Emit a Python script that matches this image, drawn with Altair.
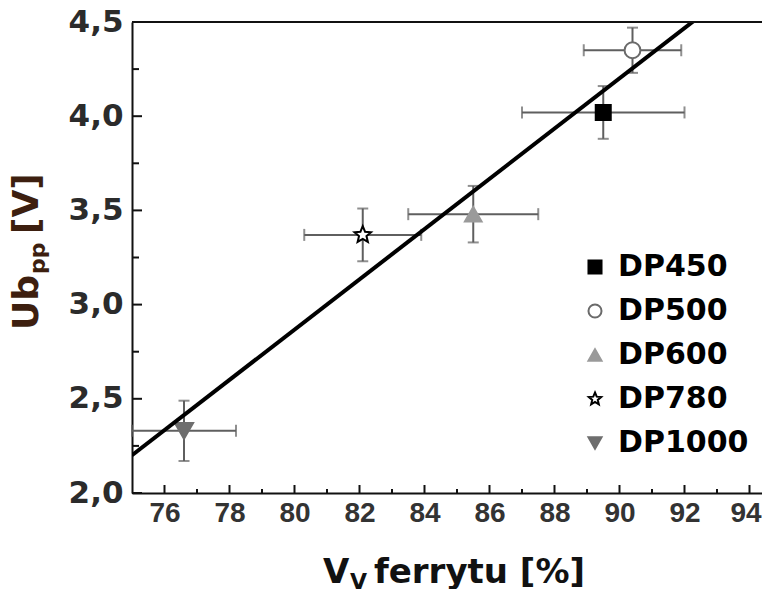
import altair as alt
import pandas as pd

# ---- data ----
series = ["DP450", "DP500", "DP600", "DP780", "DP1000"]
vv = [89.5, 90.4, 85.5, 82.1, 76.6]          # V_V ferrytu [%]
vv_err = [2.5, 1.5, 2.0, 1.8, 1.6]
ub = [4.02, 4.35, 3.48, 3.37, 2.33]          # Ub_pp [V]
ub_err = [0.14, 0.12, 0.15, 0.14, 0.16]

x_major = [76, 78, 80, 82, 84, 86, 88, 90, 92, 94]
x_minor = [77, 79, 81, 83, 85, 87, 89, 91, 93]
y_major = [2.0, 2.5, 3.0, 3.5, 4.0, 4.5]
y_minor = [2.25, 2.75, 3.25, 3.75, 4.25]

STAR = ("M0,-1L0.265,-0.364L0.951,-0.309L0.428,0.139L0.588,0.809L0,0.45"
        "L-0.588,0.809L-0.428,0.139L-0.951,-0.309L-0.265,-0.364Z")
shapes = ["square", "circle", "triangle-up", STAR, "triangle-down"]
fills = ["#000000", "#ffffff", "#9a9a9a", "#ffffff", "#6e6e6e"]
strokes = ["#000000", "#6a6a6a", "#9a9a9a", "#000000", "#6e6e6e"]
sizes = [225, 330, 420, 330, 420]

df = pd.DataFrame({
    "series": series, "vv": vv, "ub": ub,
    "xlo": [a - b for a, b in zip(vv, vv_err)],
    "xhi": [a + b for a, b in zip(vv, vv_err)],
    "ylo": [a - b for a, b in zip(ub, ub_err)],
    "yhi": [a + b for a, b in zip(ub, ub_err)],
})
leg_df = pd.DataFrame({"series": series, "row": list(range(len(series)))})

W, H = 630, 471
PX = 32.5  # pixels per % on the x axis
xs = alt.Scale(domain=[75, 75 + W / PX], nice=False, zero=False)
ys = alt.Scale(domain=[2.0, 4.5], nice=False, zero=False)

x_axis = alt.Axis(values=x_major, format="d", ticks=False, tickSize=0, grid=False,
                  domainColor="#111", domainWidth=2, labelFont="Liberation Sans",
                  labelFontSize=28, labelFontWeight="bold", labelColor="#333333",
                  labelPadding=6, title=None,
                  labelOffset={"condition": {"test": "datum.value >= 94", "value": -4},
                               "value": 0})
y_axis = alt.Axis(values=y_major, ticks=False, tickSize=0, grid=False,
                  labelExpr="replace(format(datum.value, '.1f'), '.', ',')",
                  domainColor="#111", domainWidth=2, labelFont="DejaVu Sans",
                  labelFontSize=31, labelFontWeight="bold", labelColor="#2b2b2b",
                  labelPadding=9, title=None)


def X(f):
    return alt.X(f, scale=xs, axis=x_axis)


def Y(f):
    return alt.Y(f, scale=ys, axis=y_axis)


base = alt.Chart(df)
ebc = "#5f5f5f"

hbar = base.mark_rule(color=ebc, strokeWidth=2).encode(x=X("xlo:Q"), x2="xhi:Q", y=Y("ub:Q"))
hcap_l = base.mark_tick(orient="vertical", size=12, thickness=2, color=ebc).encode(
    x=X("xlo:Q"), y=Y("ub:Q"))
hcap_r = base.mark_tick(orient="vertical", size=12, thickness=2, color=ebc).encode(
    x=X("xhi:Q"), y=Y("ub:Q"))
vbar = base.mark_rule(color=ebc, strokeWidth=2).encode(x=X("vv:Q"), y=Y("ylo:Q"), y2="yhi:Q")
vcap_l = base.mark_tick(orient="horizontal", size=11, thickness=2, color=ebc).encode(
    x=X("vv:Q"), y=Y("ylo:Q"))
vcap_h = base.mark_tick(orient="horizontal", size=11, thickness=2, color=ebc).encode(
    x=X("vv:Q"), y=Y("yhi:Q"))

shape_enc = alt.Shape("series:N", scale=alt.Scale(domain=series, range=shapes), legend=None)
fill_enc = alt.Fill("series:N", scale=alt.Scale(domain=series, range=fills), legend=None)
stroke_enc = alt.Stroke("series:N", scale=alt.Scale(domain=series, range=strokes), legend=None)

points = base.mark_point(strokeWidth=2, opacity=1).encode(
    x=X("vv:Q"), y=Y("ub:Q"),
    shape=shape_enc, fill=fill_enc, stroke=stroke_enc,
    size=alt.Size("series:N", scale=alt.Scale(domain=series, range=sizes), legend=None),
)

fit = base.transform_regression("vv", "ub", extent=[75, 95]).mark_line(
    color="black", strokeWidth=4, clip=True).encode(x=X("vv:Q"), y=Y("ub:Q"))

# inward ticks
xt_major = alt.Chart(pd.DataFrame({"v": x_major})).mark_rule(color="#111", strokeWidth=2).encode(
    x=X("v:Q"), y=alt.value(H), y2=alt.value(H - 8))
xt_minor = alt.Chart(pd.DataFrame({"v": x_minor})).mark_rule(color="#111", strokeWidth=2).encode(
    x=X("v:Q"), y=alt.value(H), y2=alt.value(H - 4))
yt_major = alt.Chart(pd.DataFrame({"v": y_major})).mark_rule(color="#111", strokeWidth=2).encode(
    y=Y("v:Q"), x=alt.value(0), x2=alt.value(10))
yt_minor = alt.Chart(pd.DataFrame({"v": y_minor})).mark_rule(color="#111", strokeWidth=2).encode(
    y=Y("v:Q"), x=alt.value(0), x2=alt.value(7))

top_line = alt.Chart(pd.DataFrame({"a": [0]})).mark_rule(color="#111", strokeWidth=2).encode(
    x=alt.value(0), x2=alt.value(W), y=alt.value(0))

# legend (drawn by hand)
leg_base = alt.Chart(leg_df).transform_calculate(py="245 + 44 * datum.row")
leg_sym = leg_base.mark_point(strokeWidth=2, opacity=1, size=170).encode(
    x=alt.value(463), y=alt.Y("py:Q", scale=None, axis=None),
    shape=shape_enc, fill=fill_enc, stroke=stroke_enc)
leg_txt = leg_base.mark_text(align="left", baseline="middle", font="DejaVu Sans",
                             fontSize=30, fontWeight="bold", color="#000").encode(
    x=alt.value(486), y=alt.Y("py:Q", scale=None, axis=None), text="series:N")


# axis titles with subscripts
def txt(s, x, y, size, angle=0, color="#111"):
    kw = dict(text=s, font="DejaVu Sans", fontSize=size, fontWeight="bold",
              align="left", baseline="alphabetic", color=color)
    if angle:
        kw["angle"] = angle
    return alt.Chart(pd.DataFrame({"a": [0]})).mark_text(**kw).encode(
        x=alt.value(x), y=alt.value(y))


ycol = "#3d1f0f"
yt1 = txt("Ub", -94, 308, 36, 270, ycol)
yt2 = txt("pp", -87, 252, 22, 270, ycol)
yt3 = txt("[V]", -94, 212, 36, 270, ycol)

xt1 = txt("V", 191, 561, 34)
xt2 = txt("V", 218, 567, 22)
xt3 = txt("ferrytu [%]", 242, 561, 34)

chart = alt.layer(
    hbar, hcap_l, hcap_r, vbar, vcap_l, vcap_h, points, fit,
    xt_major, xt_minor, yt_major, yt_minor, top_line,
    leg_sym, leg_txt,
    yt1, yt2, yt3, xt1, xt2, xt3,
).properties(
    width=W, height=H,
    autosize=alt.AutoSizeParams(type="none"),
    padding={"left": 124, "top": 14, "right": 0, "bottom": 96},
    background="white",
).configure_view(stroke=None)

chart.save("out.html", embed_options={"renderer": "svg", "actions": False})
